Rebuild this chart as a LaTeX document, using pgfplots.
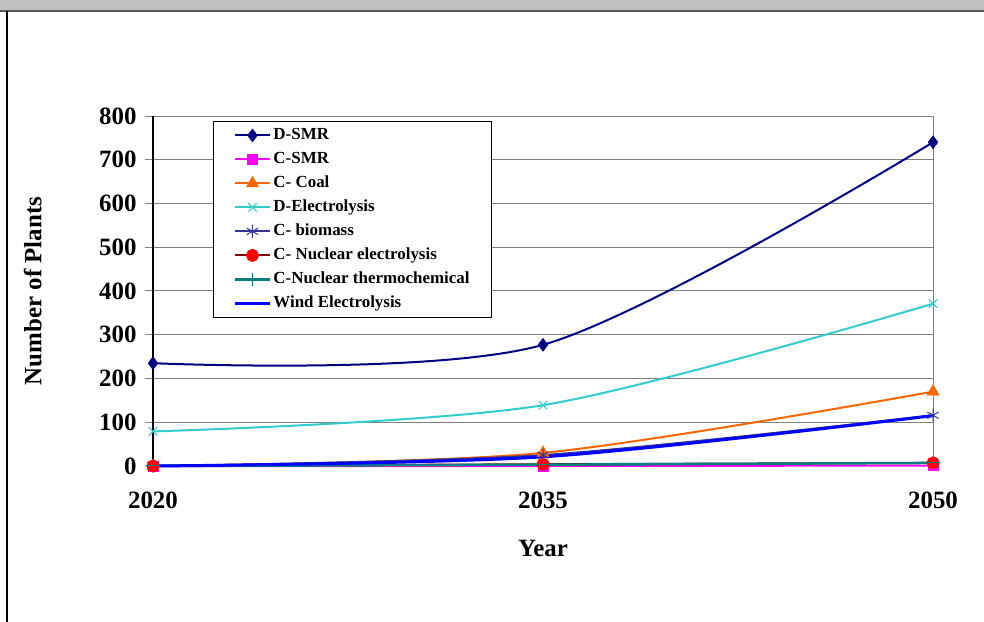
\documentclass[border=0pt]{standalone}
\usepackage{fontspec}
\setmainfont{Liberation Serif}
\usepackage{pgfplots}
\pgfplotsset{compat=1.18}

\definecolor{dsmr}{RGB}{0,0,128}
\definecolor{csmr}{RGB}{255,0,255}
\definecolor{coal}{RGB}{255,102,0}
\definecolor{delec}{RGB}{51,204,204}
\definecolor{biom}{RGB}{51,51,153}
\definecolor{nucline}{RGB}{128,0,0}
\definecolor{nucth}{RGB}{0,128,128}
\definecolor{wind}{RGB}{0,0,255}
\definecolor{gridc}{RGB}{128,128,128}
\definecolor{barc}{RGB}{192,192,192}

\begin{document}
\begin{tikzpicture}
\useasboundingbox (0bp,0bp) rectangle (984bp,622bp);
% window frame remains
\fill[barc] (0bp,612bp) rectangle (984bp,622bp);
\draw[black!65,line width=1.5bp] (0bp,611bp) -- (984bp,611bp);
\draw[black,line width=2.5bp] (7bp,0bp) -- (7bp,611bp);

\begin{axis}[
    at={(153bp,156bp)}, anchor=south west,
    scale only axis,
    width=780bp, height=350bp,
    xmin=2020, xmax=2050,
    ymin=0, ymax=800,
    xtick={2020,2035,2050},
    ytick={0,100,...,800},
    tick pos=left,
    /pgf/number format/assume math mode=true,
    /pgf/number format/1000 sep={},
    ticklabel style={font=\fontsize{25}{28}\selectfont\bfseries},
    xticklabel style={yshift=-22bp},
    yticklabel style={xshift=-5bp},
    x tick style={draw=none},
    y tick style={draw=gridc, line width=1bp},
    ytick align=outside,
    major tick length=8bp,
    ymajorgrids,
    major grid style={gridc, line width=1bp},
    axis line style={gridc, line width=1bp},
    extra x ticks={2020},
    extra x tick labels={},
    extra x tick style={grid=major, major grid style={black, line width=1.2bp}},
    xlabel={Year},
    ylabel={Number of Plants},
    every axis x label/.style={at={(axis description cs:0.5,-0.237)}, anchor=center,
        font=\fontsize{25}{28}\selectfont\bfseries},
    every axis y label/.style={at={(axis description cs:-0.154,0.5)}, rotate=90, anchor=center,
        font=\fontsize{25}{28}\selectfont\bfseries},
    clip=false,
    legend style={
        at={(axis description cs:0.0769,0.986)}, anchor=north west,
        draw=black, line width=1bp, fill=white,
        font=\fontsize{17}{20}\selectfont\bfseries,
        inner xsep=20bp, inner ysep=2bp,
        nodes={text height=12bp, text depth=4bp, inner ysep=4bp, inner xsep=2bp},
    },
    legend cell align=left,
    legend image code/.code={
        \draw[mark repeat=2,mark phase=2,#1] plot coordinates {(0bp,0bp) (17.5bp,0bp) (35bp,0bp)};
    },
    every axis plot/.append style={smooth, tension=0.5},
]

\addplot[dsmr, line width=2bp, mark=diamond*, mark size=6.5bp,
    mark options={solid, fill=dsmr, line width=0.5bp}]
    coordinates {(2020,235) (2035,277) (2050,740)};
\addlegendentry{D-SMR}

\addplot[csmr, line width=2bp, mark=square*, mark size=5bp,
    mark options={solid, fill=csmr, line width=0.5bp}]
    coordinates {(2020,0) (2035,0) (2050,1)};
\addlegendentry{C-SMR}

\addplot[coal, line width=2bp, mark=triangle*, mark size=7bp,
    mark options={solid, fill=coal, line width=0.5bp}]
    coordinates {(2020,0) (2035,30) (2050,170)};
\addlegendentry{C- Coal}

\addplot[delec, line width=2bp, mark=x, mark size=6bp,
    mark options={solid, line width=1bp}]
    coordinates {(2020,79) (2035,139) (2050,371)};
\addlegendentry{D-Electrolysis}

\addplot[biom, line width=2bp, mark=asterisk, mark size=6.5bp,
    mark options={solid, line width=1bp}]
    coordinates {(2020,0) (2035,25) (2050,116)};
\addlegendentry{C- biomass}

\addplot[nucline, line width=2bp, mark=*, mark size=5.5bp,
    mark options={solid, draw=red, fill=red}]
    coordinates {(2020,0) (2035,4) (2050,7)};
\addlegendentry{C- Nuclear electrolysis}

\addplot[nucth, line width=2.5bp, mark=+, mark size=6.5bp,
    mark options={solid, line width=1bp}]
    coordinates {(2020,0) (2035,3) (2050,7)};
\addlegendentry{C-Nuclear thermochemical}

\addplot[wind, line width=3bp]
    coordinates {(2020,0) (2035,21) (2050,115)};
\addlegendentry{Wind Electrolysis}

\end{axis}
\end{tikzpicture}
\end{document}
